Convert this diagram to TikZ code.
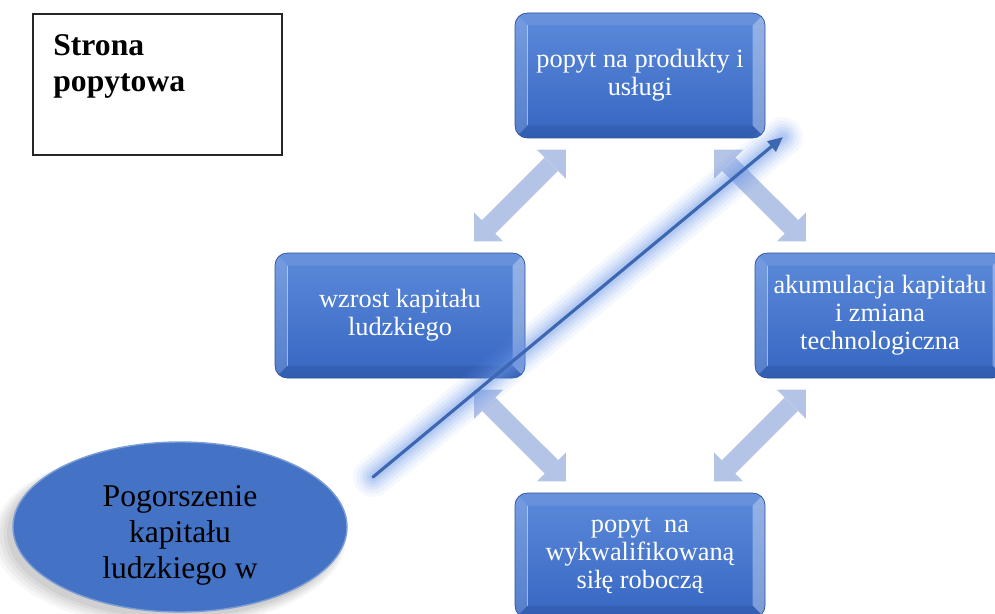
\documentclass[tikz,border=0pt]{standalone}
\usepackage{fontspec}
\setmainfont{Liberation Serif}
\usepackage{xcolor}
\usepackage{tikz}
\usetikzlibrary{positioning,arrows.meta,calc,shapes.geometric,shadows}
\definecolor{accent}{RGB}{68,114,196}
\definecolor{boxtop}{RGB}{92,138,218}
\definecolor{boxbot}{RGB}{54,102,194}
\definecolor{linkfill}{RGB}{180,196,231}
\definecolor{glowc}{RGB}{110,152,232}
\tikzset{
  bevel/.style={path picture={
      \coordinate (bsw) at (path picture bounding box.south west);
      \coordinate (bne) at (path picture bounding box.north east);
      \fill[sharp corners, white, opacity=0.16] (bsw) -- ++(0.25,0.25) -- ($(bsw |- bne)+(0.25,-0.25)$) -- (bsw |- bne) -- cycle;
      \fill[sharp corners, white, opacity=0.35] (bne) -- ++(-0.25,-0.25) -- ($(bne |- bsw)+(-0.25,0.25)$) -- (bne |- bsw) -- cycle;
      \fill[sharp corners, white, opacity=0.08] (bsw |- bne) -- ++(0.25,-0.25) -- ($(bne)+(-0.25,-0.25)$) -- (bne) -- cycle;
      \fill[sharp corners, black, opacity=0.08] (bsw) -- ++(0.25,0.25) -- ($(bne |- bsw)+(-0.25,0.25)$) -- (bne |- bsw) -- cycle;
      \draw[white, opacity=0.45, line width=1pt] ($(bsw)+(0.25,0.25)$) -- ($(bsw |- bne)+(0.25,-0.25)$);
  }},
  stage/.style={rectangle, rounded corners=7pt, minimum width=5cm, minimum height=2.5cm,
                inner sep=0pt, outer sep=0pt, top color=boxtop, bottom color=boxbot,
                draw=boxbot!80!black, line width=0.4pt, text=white, align=center,
                font=\fontsize{15}{16}\selectfont, bevel},
  sidebox/.style={draw=black!85, line width=0.7pt, fill=white, minimum width=4.98cm,
                  minimum height=2.82cm, inner sep=0pt, outer sep=0pt},
  sidelbl/.style={anchor=north west, xshift=0.4cm, yshift=-0.4cm, inner sep=0pt, align=left,
                  font=\fontsize{18}{20.5}\selectfont\bfseries},
  softshadow/.style={
    drop shadow={shadow xshift=-0.2cm, shadow yshift=-0.2cm, shadow scale=1.06, opacity=0.03, fill=black},
    drop shadow={shadow xshift=-0.18cm, shadow yshift=-0.18cm, shadow scale=1.045, opacity=0.035, fill=black},
    drop shadow={shadow xshift=-0.16cm, shadow yshift=-0.16cm, shadow scale=1.03, opacity=0.04, fill=black},
    drop shadow={shadow xshift=-0.14cm, shadow yshift=-0.14cm, shadow scale=1.015, opacity=0.045, fill=black},
    drop shadow={shadow xshift=-0.12cm, shadow yshift=-0.12cm, opacity=0.05, fill=black}},
  cause/.style={ellipse, minimum width=6.68cm, minimum height=3.4cm, inner sep=0pt, outer sep=0pt,
                fill=accent, draw=accent!70!white, line width=0.8pt, softshadow},
  causelbl/.style={anchor=center, yshift=-0.16cm, inner sep=0pt, text=black, align=center,
                   font=\fontsize{18}{20.5}\selectfont},
  link/.style={line width=0.38cm, draw=linkfill,
               {Triangle[width=0.82cm,length=0.41cm,line width=0pt]}-{Triangle[width=0.82cm,length=0.41cm,line width=0pt]},
               shorten <=0.33cm, shorten >=0.33cm},
  glow/.style={glowc, line cap=round},
  pointer/.style={-{Triangle[length=0.3cm,width=0.26cm]}, line width=1.8pt, accent!90!black, line cap=round}
}

\begin{document}
\begin{tikzpicture}
\useasboundingbox (0,0) rectangle (19.9,12.26);
\clip (0,0) rectangle (19.9,12.26);
\node (side) [sidebox, anchor=north west, at={(0.66,11.98)}, label={[sidelbl]north west:Strona\\popytowa}] {};
\node (pogo) [cause, at={(3.6,1.72)}, label={[causelbl]center:Pogorszenie\\kapitału\\ludzkiego w}] {};
\node (prod) [stage, at={(12.8,10.75)}] {popyt na produkty i\\usługi};
\node (ludz) [stage, at={($(prod)+(-4.8,-4.8)$)}] {wzrost kapitału\\ludzkiego};
\node (akum) [stage, at={($(prod)+(4.8,-4.8)$)}] {akumulacja kapitału\\i zmiana\\technologiczna};
\node (praca) [stage, at={($(prod)+(0,-9.6)$)}] {popyt\ \ na\\wykwalifikowaną\\siłę roboczą};
\draw[link] (prod) -- (ludz);
\draw[link] (prod) -- (akum);
\draw[link] (ludz) -- (praca);
\draw[link] (akum) -- (praca);
\coordinate (gtail) at ($(pogo.east)+(0.52,1.0)$);
\coordinate (ghead) at ($(prod.south east)+(0.36,0.02)$);
\foreach \w/\o in {0.8cm/0.07,0.66cm/0.08,0.52cm/0.1,0.4cm/0.12,0.28cm/0.14,0.18cm/0.16}
  \draw[glow, line width=\w, opacity=\o] (gtail) -- (ghead);
\draw[pointer] (gtail) -- (ghead);
\end{tikzpicture}
\end{document}
